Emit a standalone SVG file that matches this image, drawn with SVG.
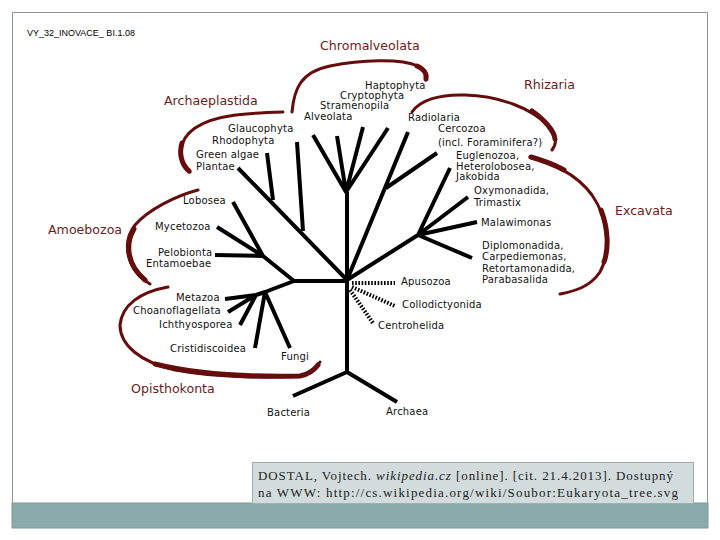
<svg xmlns="http://www.w3.org/2000/svg" width="720" height="540" viewBox="0 0 720 540">
<style>
.leaf{font-family:"DejaVu Sans","Liberation Sans",sans-serif;font-size:10px;letter-spacing:0.2px;fill:#111}
.clade{font-family:"DejaVu Sans","Liberation Sans",sans-serif;font-size:12.6px;fill:#6b1c1c}
.br{fill:none;stroke:#650d0d;stroke-width:3;stroke-linecap:round}
.brt{fill:none;stroke:#650d0d;stroke-width:5;stroke-linecap:round}
.ln{fill:none;stroke:#000;stroke-width:4;stroke-linecap:butt;stroke-linejoin:round}
.dot{fill:none;stroke:#000;stroke-width:4;stroke-dasharray:1.6,1.6}
.cap{font-family:"Liberation Serif","DejaVu Serif",serif;font-size:13px;fill:#222}
</style>
<rect x="0" y="0" width="720" height="540" fill="#fff"/>
<g id="frame">
<path d="M12.5,528 V12.5 H707.5 V503" fill="none" stroke="#8c9696" stroke-width="1"/>
<rect x="12" y="503" width="696" height="25" fill="#8aabab" stroke="#7f9a9a" stroke-width="1"/>
</g>
<g id="doc-code"><text x="27" y="36" font-family="Liberation Sans,sans-serif" font-size="9" fill="#000">VY_32_INOVACE_ BI.1.08</text></g>

<g id="braces">
<path class="br" d="M292,112 C294,90 300,72 330,66 C360,60 400,58 418,66 C425,70 427,76 426,80"/>
<path class="brt" d="M417,66 C424,69 427,74 426,79"/>
<path class="br" d="M412,112 C420,100 440,94 465,95 C500,96 530,108 548,125 C556,133 558,142 552,150"/>
<path class="brt" d="M532,111 C545,120 554,131 555,139"/>
<path class="br" d="M530,157 C550,163 575,172 592,195 C608,218 612,250 600,272 C590,287 575,291 560,294"/>
<path class="brt" d="M531,157 C545,161 555,165 564,170"/>
<path class="brt" d="M601,210 C608,228 609,248 604,262"/>
<path class="br" d="M283,112 C250,113 215,114 195,128 C178,140 176,160 190,172"/>
<path class="brt" d="M182,143 C179,153 181,164 189,171"/>
<path class="br" d="M198,190 C175,196 148,210 135,225 C122,242 125,268 150,284"/>
<path class="brt" d="M134,229 C125,244 127,265 145,280"/>
<path class="br" d="M168,287 C140,292 122,305 120,325 C120,345 140,362 175,370 C220,378 270,378 300,376 C310,374 316,368 320,362"/>
<path class="brt" d="M155,364 C195,374 250,377 300,376 C310,374 315,369 318,365"/>
</g>

<g id="connectors">
<path class="ln" d="M347,280 V192"/>
<path class="ln" d="M313,135 L346,192 L337,136 M346,192 L363,127 M346,192 L388,128"/>
<path class="ln" d="M347,280 L408,132 M386,188 L437,153"/>
<path class="ln" d="M347,280 L418,235 L450,168 M418,235 L468,197 M418,235 L477,222 M418,235 L472,258"/>
<path class="dot" d="M352,283 H395"/>
<path class="dot" d="M352,287 L395,306"/>
<path class="dot" d="M350,290 L373,323"/>
<path class="ln" d="M347,280 V372 L293,396 M347,372 L397,402"/>
<path class="ln" d="M347,280 L238,168 M273,200 L267,153 M303,231 L297,142"/>
<path class="ln" d="M347,281 H294 L263,256 L233,202 M263,256 L217,227 M263,256 L215,255"/>
<path class="ln" d="M294,281 L265,292 L255,348 M265,292 L290,348 M265,292 L256,295 L225,299 M256,295 L228,312 M256,295 L240,325"/>
</g>

<g id="clade-chromalveolata"><text class="clade" x="320" y="50">Chromalveolata</text></g>
<g id="clade-rhizaria"><text class="clade" x="524" y="89">Rhizaria</text></g>
<g id="clade-archaeplastida"><text class="clade" x="164" y="105">Archaeplastida</text></g>
<g id="clade-excavata"><text class="clade" x="615" y="215">Excavata</text></g>
<g id="clade-amoebozoa"><text class="clade" x="48" y="234">Amoebozoa</text></g>
<g id="clade-opisthokonta"><text class="clade" x="131" y="393">Opisthokonta</text></g>

<g id="leaf-haptophyta"><text class="leaf" x="365" y="89">Haptophyta</text></g>
<g id="leaf-cryptophyta"><text class="leaf" x="340" y="99">Cryptophyta</text></g>
<g id="leaf-stramenopila"><text class="leaf" x="320" y="109">Stramenopila</text></g>
<g id="leaf-alveolata"><text class="leaf" x="304" y="120">Alveolata</text></g>
<g id="leaf-radiolaria"><text class="leaf" x="408" y="121">Radiolaria</text></g>
<g id="leaf-cercozoa"><text class="leaf" x="438" y="132">Cercozoa</text><text class="leaf" x="438" y="146">(incl. Foraminifera?)</text></g>
<g id="leaf-glaucophyta"><text class="leaf" x="228" y="132">Glaucophyta</text></g>
<g id="leaf-rhodophyta"><text class="leaf" x="212" y="144">Rhodophyta</text></g>
<g id="leaf-greenalgae"><text class="leaf" x="196" y="158">Green algae</text></g>
<g id="leaf-plantae"><text class="leaf" x="196" y="170">Plantae</text></g>
<g id="leaf-euglenozoa"><text class="leaf" x="456" y="159">Euglenozoa,</text><text class="leaf" x="456" y="170">Heterolobosea,</text><text class="leaf" x="456" y="180">Jakobida</text></g>
<g id="leaf-oxymonadida"><text class="leaf" x="474" y="194">Oxymonadida,</text><text class="leaf" x="474" y="206">Trimastix</text></g>
<g id="leaf-malawimonas"><text class="leaf" x="481" y="226">Malawimonas</text></g>
<g id="leaf-diplomonadida"><text class="leaf" x="482" y="249">Diplomonadida,</text><text class="leaf" x="482" y="260">Carpediemonas,</text><text class="leaf" x="482" y="272">Retortamonadida,</text><text class="leaf" x="482" y="283">Parabasalida</text></g>
<g id="leaf-lobosea"><text class="leaf" x="183" y="204">Lobosea</text></g>
<g id="leaf-mycetozoa"><text class="leaf" x="155" y="230">Mycetozoa</text></g>
<g id="leaf-pelobionta"><text class="leaf" x="158" y="256">Pelobionta</text><text class="leaf" x="146" y="267">Entamoebae</text></g>
<g id="leaf-metazoa"><text class="leaf" x="176" y="301">Metazoa</text></g>
<g id="leaf-choanoflagellata"><text class="leaf" x="133" y="314">Choanoflagellata</text></g>
<g id="leaf-ichthyosporea"><text class="leaf" x="159" y="328">Ichthyosporea</text></g>
<g id="leaf-cristidiscoidea"><text class="leaf" x="170" y="352">Cristidiscoidea</text></g>
<g id="leaf-fungi"><text class="leaf" x="281" y="360">Fungi</text></g>
<g id="leaf-apusozoa"><text class="leaf" x="401" y="285">Apusozoa</text></g>
<g id="leaf-collodictyonida"><text class="leaf" x="402" y="308">Collodictyonida</text></g>
<g id="leaf-centrohelida"><text class="leaf" x="378" y="329">Centrohelida</text></g>
<g id="leaf-bacteria"><text class="leaf" x="267" y="416">Bacteria</text></g>
<g id="leaf-archaea"><text class="leaf" x="386" y="415">Archaea</text></g>

<g id="caption">
<rect x="252.5" y="462.5" width="441" height="41" fill="#d3dcdc" stroke="#9fb0b0" stroke-width="1"/>
<text class="cap" x="258" y="480" textLength="415">DOSTAL, Vojtech. <tspan font-style="italic">wikipedia.cz</tspan> [online]. [cit. 21.4.2013]. Dostupný</text>
<text class="cap" x="258" y="497" textLength="420">na WWW: http://cs.wikipedia.org/wiki/Soubor:Eukaryota_tree.svg</text>
</g>
</svg>
